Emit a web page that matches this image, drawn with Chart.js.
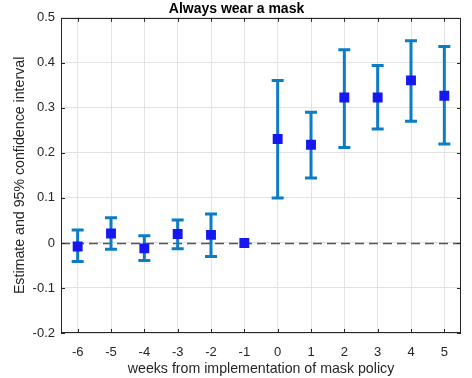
<!DOCTYPE html>
<html>
<head>
<meta charset="utf-8">
<script src="https://cdn.jsdelivr.net/npm/chart.js@4/dist/chart.umd.min.js"></script>
<style>
  html, body { margin: 0; padding: 0; background: #fff; }
  #wrap { width: 472px; height: 378px; }
</style>
</head>
<body>
<div id="wrap"><canvas id="c" width="472" height="378"></canvas></div>
<script>
// weeks relative to the mask policy
var weeks = [-6, -5, -4, -3, -2, -1, 0, 1, 2, 3, 4, 5];
var estimate = [-0.008, 0.021, -0.012, 0.020, 0.018, 0.000, 0.231, 0.218, 0.323, 0.323, 0.361, 0.327];
var upper = [0.029, 0.056, 0.016, 0.051, 0.064, 0.000, 0.361, 0.290, 0.429, 0.394, 0.449, 0.436];
var lower = [-0.041, -0.014, -0.039, -0.013, -0.030, 0.000, 0.100, 0.144, 0.212, 0.253, 0.270, 0.220];
var yTicks = [-0.2, -0.1, 0, 0.1, 0.2, 0.3, 0.4, 0.5];

var axisColor = '#262626';
var fontFamily = "'Liberation Sans', Arial, sans-serif";

var points = weeks.map(function (w, i) { return { x: w, y: estimate[i] }; });

// error bars + zero line, drawn under the markers
var errorBars = {
  id: 'errorBars',
  beforeDatasetsDraw: function (chart) {
    var ctx = chart.ctx, xs = chart.scales.x, ys = chart.scales.y, area = chart.chartArea;
    ctx.save();
    // dashed zero line
    ctx.strokeStyle = '#555555';
    ctx.lineWidth = 1.5;
    ctx.setLineDash([9, 5]);
    var y0 = Math.round(ys.getPixelForValue(0)) + 0.5;
    ctx.beginPath();
    ctx.moveTo(area.left, y0);
    ctx.lineTo(area.right, y0);
    ctx.stroke();
    ctx.setLineDash([]);

    ctx.strokeStyle = '#0C7CC4';
    ctx.lineWidth = 3;
    weeks.forEach(function (w, i) {
      if (upper[i] === lower[i]) return;
      var x = xs.getPixelForValue(w);
      var yu = ys.getPixelForValue(upper[i]);
      var yl = ys.getPixelForValue(lower[i]);
      ctx.beginPath();
      ctx.moveTo(x, yu); ctx.lineTo(x, yl);
      ctx.moveTo(x - 6, yu); ctx.lineTo(x + 6, yu);
      ctx.moveTo(x - 6, yl); ctx.lineTo(x + 6, yl);
      ctx.stroke();
    });
    ctx.restore();
  },
  afterDraw: function (chart) {
    // box with inward ticks, matlab style
    var ctx = chart.ctx, xs = chart.scales.x, ys = chart.scales.y, a = chart.chartArea;
    ctx.save();
    ctx.strokeStyle = axisColor;
    ctx.lineWidth = 1;
    ctx.strokeRect(Math.round(a.left) + 0.5, Math.round(a.top) + 0.5,
      Math.round(a.right - a.left) - 1, Math.round(a.bottom - a.top) - 1);
    ctx.beginPath();
    weeks.forEach(function (w) {
      var x = Math.round(xs.getPixelForValue(w)) + 0.5;
      ctx.moveTo(x, a.bottom); ctx.lineTo(x, a.bottom - 4);
      ctx.moveTo(x, a.top); ctx.lineTo(x, a.top + 4);
    });
    yTicks.forEach(function (v) {
      var y = Math.round(ys.getPixelForValue(v)) + 0.5;
      ctx.moveTo(a.left, y); ctx.lineTo(a.left + 4, y);
      ctx.moveTo(a.right, y); ctx.lineTo(a.right - 4, y);
    });
    ctx.stroke();
    ctx.restore();
  }
};

new Chart(document.getElementById('c'), {
  type: 'scatter',
  data: {
    datasets: [{
      data: points,
      pointStyle: 'rect',
      pointRadius: 7,
      pointHoverRadius: 7,
      pointBackgroundColor: '#1717F2',
      pointBorderColor: '#1717F2',
      pointBorderWidth: 0
    }]
  },
  options: {
    responsive: false,
    animation: false,
    layout: { padding: { left: 12, right: 11, top: 0, bottom: 0 } },
    plugins: {
      legend: { display: false },
      tooltip: { enabled: false },
      title: {
        display: true,
        text: 'Always wear a mask',
        color: '#000',
        font: { family: fontFamily, size: 14, weight: 'bold' },
        padding: { top: 1, bottom: 0 }
      }
    },
    scales: {
      x: {
        type: 'linear',
        min: -6.5,
        max: 5.5,
        afterBuildTicks: function (s) { s.ticks = weeks.map(function (w) { return { value: w }; }); },
        afterFit: function (s) { s.height = 45; },
        grid: { color: '#e3e3e3', drawTicks: false },
        border: { display: false },
        ticks: { color: axisColor, padding: 12, font: { family: fontFamily, size: 13 } },
        title: {
          display: true,
          text: 'weeks from implementation of mask policy',
          color: axisColor,
          padding: { top: 0, bottom: 0 },
          font: { family: fontFamily, size: 14.2 }
        }
      },
      y: {
        min: -0.2,
        max: 0.5,
        afterBuildTicks: function (s) { s.ticks = yTicks.map(function (v) { return { value: v }; }); },
        afterFit: function (s) { s.width = 49; },
        grid: { color: '#e3e3e3', drawTicks: false },
        border: { display: false },
        ticks: {
          color: axisColor,
          padding: 6,
          font: { family: fontFamily, size: 13 },
          callback: function (v) { return String(Math.round(v * 10) / 10); }
        },
        title: {
          display: true,
          text: 'Estimate and 95% confidence interval',
          color: axisColor,
          padding: { top: 0, bottom: 0 },
          font: { family: fontFamily, size: 14.2 }
        }
      }
    }
  },
  plugins: [errorBars]
});
</script>
</body>
</html>
